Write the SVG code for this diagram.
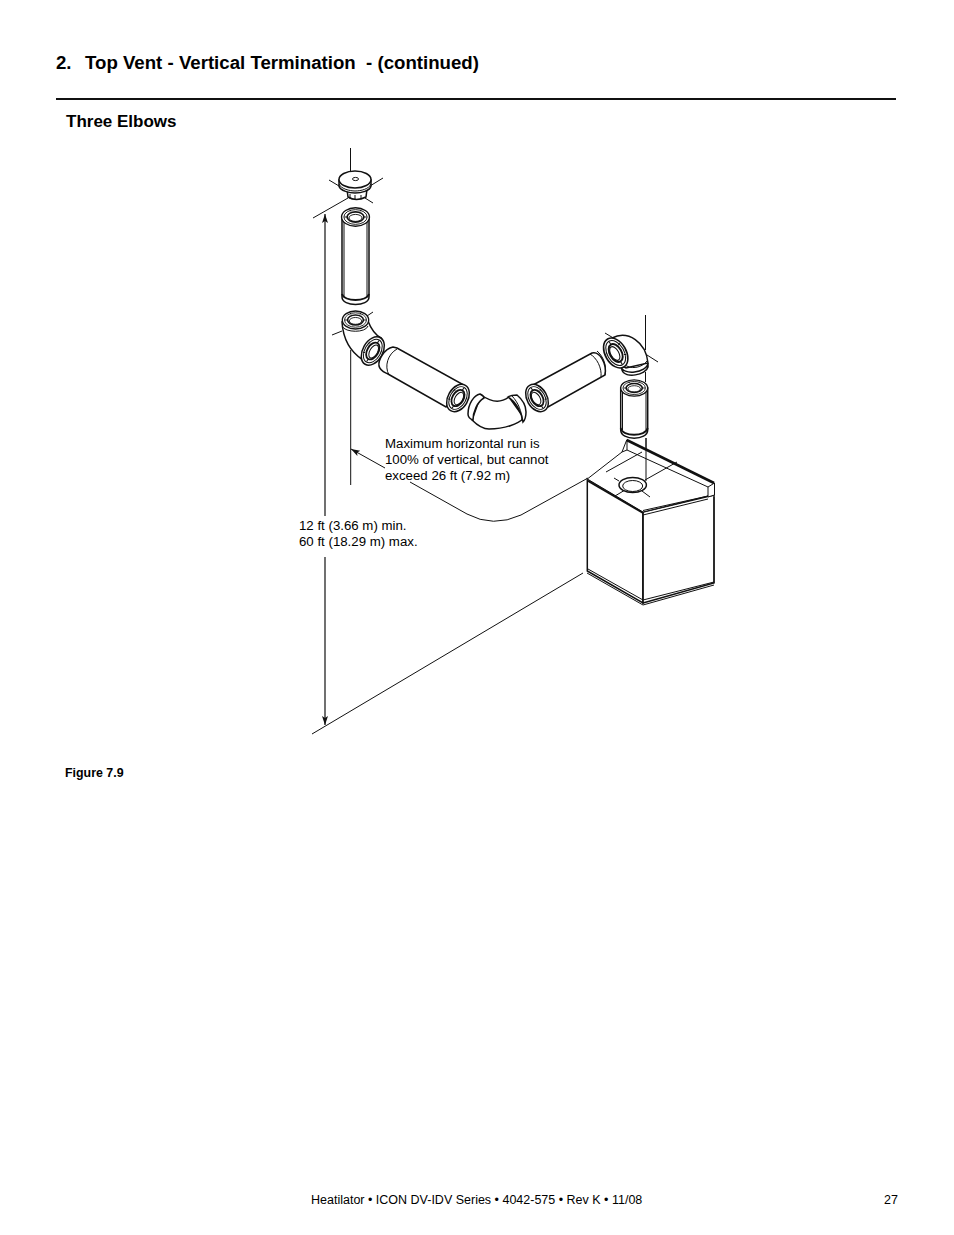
<svg xmlns="http://www.w3.org/2000/svg" width="954" height="1235" viewBox="0 0 954 1235">
<style>
text{font-family:"Liberation Sans",Arial,sans-serif;fill:#000;white-space:pre}
.h{font-size:18.65px;font-weight:bold}
.s{font-size:17px;font-weight:bold}
.f{font-size:12.4px;font-weight:bold}
.l{font-size:13.25px}
.m{font-size:12.5px}
.t{fill:none;stroke:#111;stroke-width:1}
.w{fill:#fff;stroke:#111;stroke-width:1}
.b{fill:#fff;stroke:#111;stroke-width:1.5}
.d{fill:none;stroke:#111;stroke-width:1.8}
.k{fill:none;stroke:#111;stroke-width:2.6}
</style>
<defs>
<marker id="a" markerWidth="10" markerHeight="8" refX="9" refY="3" orient="auto" markerUnits="userSpaceOnUse"><path d="M0 0L9 3L0 6L2 3z" fill="#111"/></marker>
<g id="ring"><ellipse class="b" rx="15" ry="10"/><ellipse class="t" rx="12.5" ry="8"/><ellipse class="d" rx="9" ry="5.6"/><ellipse class="t" cy="1" rx="7" ry="3.8"/><path class="t" d="M-12 0L-9 0M9 0L12 0M-5 -6L-6 -8M5 -6L6 -8"/></g>
</defs>
<rect width="954" height="1235" fill="#fff"/>
<g id="page">
<text class="h" x="56" y="69">2.</text>
<text class="h" x="85" y="69">Top Vent - Vertical Termination  - (continued)</text>
<rect x="56" y="98" width="840" height="2" fill="#111"/>
<text class="s" x="66" y="127">Three Elbows</text>
<text class="f" x="65" y="777">Figure 7.9</text>
<text class="m" x="311" y="1204">Heatilator • ICON DV-IDV Series • 4042-575 • Rev K • 11/08</text>
<text class="m" x="884" y="1204">27</text>
</g>
<g id="connectors">
<path class="t" d="M350.5 148V172M329 180L344 189M383 178L370 186M365 198L373 203M313 218L348 198M373 312L367 316M332 335L342 331M605 333L620 342M647 355L658 362"/>
<path class="t" d="M350.7 350V485M645.5 315V350M645.5 372V382M646 438V480"/>
<path class="t" style="stroke-width:1.2" d="M325 516V214" marker-end="url(#a)"/>
<path class="t" style="stroke-width:1.2" d="M325 557V725" marker-end="url(#a)"/>
<path class="t" d="M312 734L583 573"/>
<path class="t" d="M385 468L351 449" marker-end="url(#a)"/>
<path class="t" d="M410 482L467 514Q493 528 521 515L588 478"/>
</g>
<g id="cap">
<path class="b" d="M347 189L348 197Q356 202 366 197L367 189Z"/>
<path class="t" d="M350 194V199M355 195V200M361 195V199"/>
<path class="b" d="M339 180V186C340 191 350 193 355 193C361 193 370 191 371 186V180Z"/>
<ellipse class="b" cx="355" cy="179.5" rx="16" ry="8.5"/>
<path class="t" d="M339 184C341 189 350 191 355 191C361 191 369 189 371 184"/>
<ellipse class="t" cx="355.5" cy="179" rx="3" ry="1.6"/>
</g>
<g id="pipe-1">
<path class="b" d="M342 217V297C342 307 369 307 369 297V217Z"/>
<path class="t" d="M344 217V297M367 217V297"/>
<path class="d" d="M342 294C344 302 367 302 369 294"/>
<use href="#ring" transform="translate(355.5 217) scale(.93 .92)"/>
</g>
<g id="elbow-1">
<path class="b" d="M342 322C343 338 349 351 363 360L381 338C374 334 371 329 368 321Z"/>
<path class="t" d="M342 326C345 333 366 333 368 326"/>
<use href="#ring" transform="translate(355.5 320) scale(.88 .9)"/>
<use href="#ring" transform="translate(372.8 351) rotate(-60) scale(1.02 1)"/>
</g>
<g id="pipe-2">
<path class="b" d="M393 347C384 349 378 360 379 366C380 371 384 372 388 374L446 407L462 384L397 348Z"/>
<path class="t" d="M397 349C388 354 384 366 389 375"/>
<use href="#ring" transform="translate(458 398) rotate(-60) scale(.98 1)"/>
</g>
<g id="elbow-2">
<path class="b" d="M481 395C494 404 502 402 509 397L524 418C518 424 505 429 489 429C482 429 477 425 472 420Z"/>
<path class="b" d="M480 394C474 395 468 404 468 414C468 418 470 419 473 420C473 412 477 402 484 398C484 396 482 395 480 394Z"/>
<path class="b" d="M508 397C511 395 514 395 517 395C523 400 526 406 526 412C526 416 525 420 523 422C522 413 516 402 508 397Z"/>
<path class="t" d="M512 396C518 402 522 412 522 420"/>
</g>
<g id="pipe-3">
<path class="b" d="M533 385L592 353C600 351 607 364 605 375L548 407Z"/>
<path class="t" d="M590 354C597 358 602 368 601 377"/>
<path class="t" d="M597 351C603 356 607 365 605 375"/>
<use href="#ring" transform="translate(537 398) rotate(60) scale(.98 1)"/>
</g>
<g id="elbow-3">
<path class="b" d="M612 338C628 330 646 342 648 363L626 368L612 360Z"/>
<path class="b" d="M621 366C622 376 647 373 648 363V367C646 375 625 379 622 370Z"/>
<path class="t" d="M624 364C630 370 642 368 647 361"/>
<use href="#ring" transform="translate(615.7 353) rotate(60) scale(1.08 1.05)"/>
</g>
<g id="pipe-4">
<path class="b" d="M620.7 388V430C620.7 441 647.7 441 647.7 430V388Z"/>
<path class="t" d="M622.5 388V430M646 388V430"/>
<path class="d" d="M620.7 428C622 437 646 437 647.7 428"/>
<use href="#ring" transform="translate(634.2 388) scale(.9 .82)"/>
</g>
<g id="fireplace">
<path class="b" d="M587.3 479L643 512V603L587.3 571Z"/>
<path class="b" d="M643 512L714 495V583L643 603Z"/>
<path class="w" d="M587.3 479L622 452L626.7 440L714 483L708 496L643 512Z"/>
<path class="t" d="M622 452L627 450M627 441V450L708 487"/>
<path class="k" d="M626.7 440L714 483"/>
<path class="w" d="M708 487L714.5 483V495L708 497Z"/>
<path class="k" style="stroke-width:1.8" d="M588 481L643 513"/>
<path class="t" d="M643 515L708 499M587 573L643 605L714 585M588 569L643 600L714 582"/>
<path class="t" d="M643 510.5L708 496M643 512V603M714 497V583"/>
<path class="t" d="M606 472L642 452M614 478L619 481M642 491L650 497M615 496L625 490M645 480L677 462"/>
<ellipse class="b" cx="632.7" cy="485" rx="13.7" ry="7.5"/>
<ellipse class="t" cx="632.7" cy="486" rx="10" ry="5.5"/>
<path class="t" d="M646 438V481"/>
</g>
<g id="labels">
<text class="l" x="385" y="448">Maximum horizontal run is</text>
<text class="l" x="385" y="464">100% of vertical, but cannot</text>
<text class="l" x="385" y="480">exceed 26 ft (7.92 m)</text>
<text class="l" x="299" y="530">12 ft (3.66 m) min.</text>
<text class="l" x="299" y="546">60 ft (18.29 m) max.</text>
</g>
</svg>
